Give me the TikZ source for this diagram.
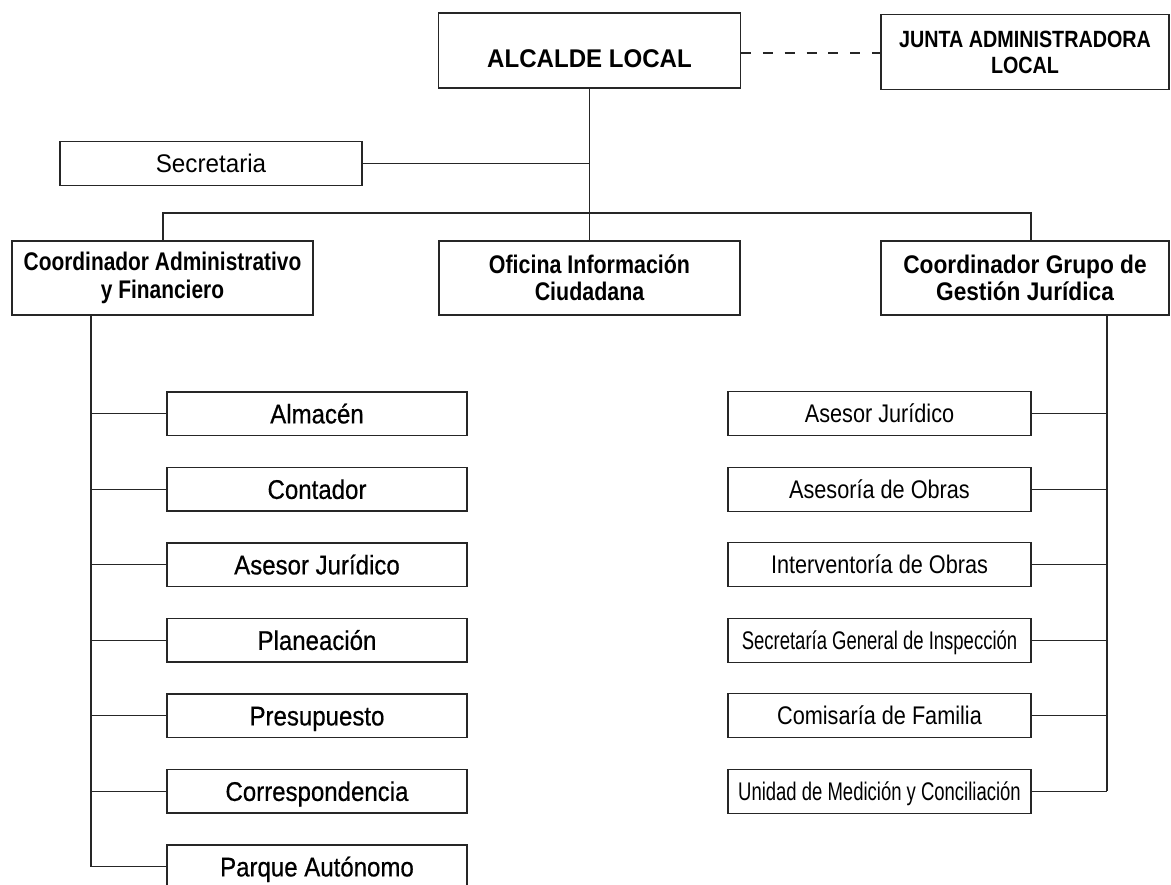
\documentclass[tikz,border=0pt]{standalone}
\usepackage{fontspec}
\setmainfont{Liberation Sans}
\newfontfamily\medfont[FakeBold=0.6]{Liberation Sans}
\usepackage{graphicx}
\newcommand{\hs}[2]{\scalebox{#1}[1]{#2}}
\begin{document}
\begin{tikzpicture}[x=1pt,y=-1pt,
  box/.style={draw=black!85, line width=1.25pt, inner sep=0pt, align=center, text=black},
  link/.style={draw=black!85, line width=1.25pt},
  bigbold/.style={font=\bfseries\fontsize{25.5}{27.5}\selectfont},
  leftbox/.style={box, minimum width=300pt, minimum height=43.5pt, text height=19.3pt, text depth=0pt,
    font=\medfont\fontsize{27}{30}\selectfont},
  rightbox/.style={box, minimum width=303pt, minimum height=44pt, text height=18.2pt, text depth=0pt,
    font=\fontsize{25.5}{28}\selectfont},
  ]
\useasboundingbox (0,0) rectangle (1171,885);
\begin{scope}
\clip (0,0) rectangle (1171,885);
% top level
\node[box, minimum width=302pt, minimum height=75pt, text height=35pt, text depth=0pt,
  font=\bfseries\fontsize{25.6}{28}\selectfont] (alc) at (589.5,50.5) {\hs{0.94}{ALCALDE LOCAL}};
\node[box, minimum width=288pt, minimum height=75pt,
  font=\bfseries\fontsize{23.5}{26}\selectfont] (junta) at (1025,52)
  {\hs{0.84}{JUNTA ADMINISTRADORA}\\\hs{0.84}{LOCAL}};
\node[box, minimum width=302pt, minimum height=43.5pt, text height=18.3pt, text depth=0pt,
  font=\fontsize{25.5}{28}\selectfont] (sec) at (211,163.5) {\hs{0.95}{Secretaria}};
% second level
\node[box, bigbold, minimum width=301pt, minimum height=74pt] (cadm) at (162.5,278)
  {\hs{0.82}{Coordinador Administrativo}\\\hs{0.82}{y Financiero}};
\node[box, bigbold, minimum width=301pt, minimum height=74pt] (ofi) at (589.5,278)
  {\hs{0.84}{Oficina Información}\\\hs{0.84}{Ciudadana}};
\node[box, bigbold, minimum width=288pt, minimum height=74pt] (cgru) at (1025,278)
  {\hs{0.89}{Coordinador Grupo de}\\\hs{0.89}{Gestión Jurídica}};
% left column
\node[leftbox] (a1) at (317,413.75) {\hs{0.89}{Almacén}};
\node[leftbox] (a2) at (317,489.25) {\hs{0.89}{Contador}};
\node[leftbox] (a3) at (317,564.75) {\hs{0.89}{Asesor Jurídico}};
\node[leftbox] (a4) at (317,640.25) {\hs{0.89}{Planeación}};
\node[leftbox] (a5) at (317,715.75) {\hs{0.89}{Presupuesto}};
\node[leftbox] (a6) at (317,791.25) {\hs{0.89}{Correspondencia}};
\node[leftbox] (a7) at (317,866.75) {\hs{0.89}{Parque Autónomo}};
% right column
\node[rightbox] (b1) at (879.5,413.75) {\hs{0.85}{Asesor Jurídico}};
\node[rightbox] (b2) at (879.5,489.25) {\hs{0.85}{Asesoría de Obras}};
\node[rightbox] (b3) at (879.5,564.75) {\hs{0.85}{Interventoría de Obras}};
\node[rightbox] (b4) at (879.5,640.25) {\hs{0.725}{Secretaría General de Inspección}};
\node[rightbox] (b5) at (879.5,715.75) {\hs{0.85}{Comisaría de Familia}};
\node[rightbox] (b6) at (879.5,791.25) {\hs{0.725}{Unidad de Medición y Conciliación}};
% connectors
\draw[link, dash pattern=on 10pt off 11.8pt] ([yshift=-2.5pt]alc.east) -- ([yshift=-2.5pt]alc.east -| junta.west);
\draw[link] (alc.south) -- (alc.south |- ofi.north);
\draw[link] (sec.east) -- (sec.east -| alc.south);
\coordinate (barL) at (163,213);
\coordinate (barR) at (1031,213);
\draw[link] (cadm.north -| barL) -- (barL) -- (barR) -- (barR |- cgru.north);
\coordinate (lx) at (91,0);
\coordinate (rx) at (1107,0);
\draw[link] (cadm.south -| lx) -- (lx |- a7.west);
\foreach \n in {a1,a2,a3,a4,a5,a6,a7} \draw[link] (lx |- \n.west) -- (\n.west);
\draw[link] (cgru.south -| rx) -- (rx |- b6.east);
\foreach \n in {b1,b2,b3,b4,b5,b6} \draw[link] (\n.east) -- (rx |- \n.east);
\end{scope}
\end{tikzpicture}
\end{document}
